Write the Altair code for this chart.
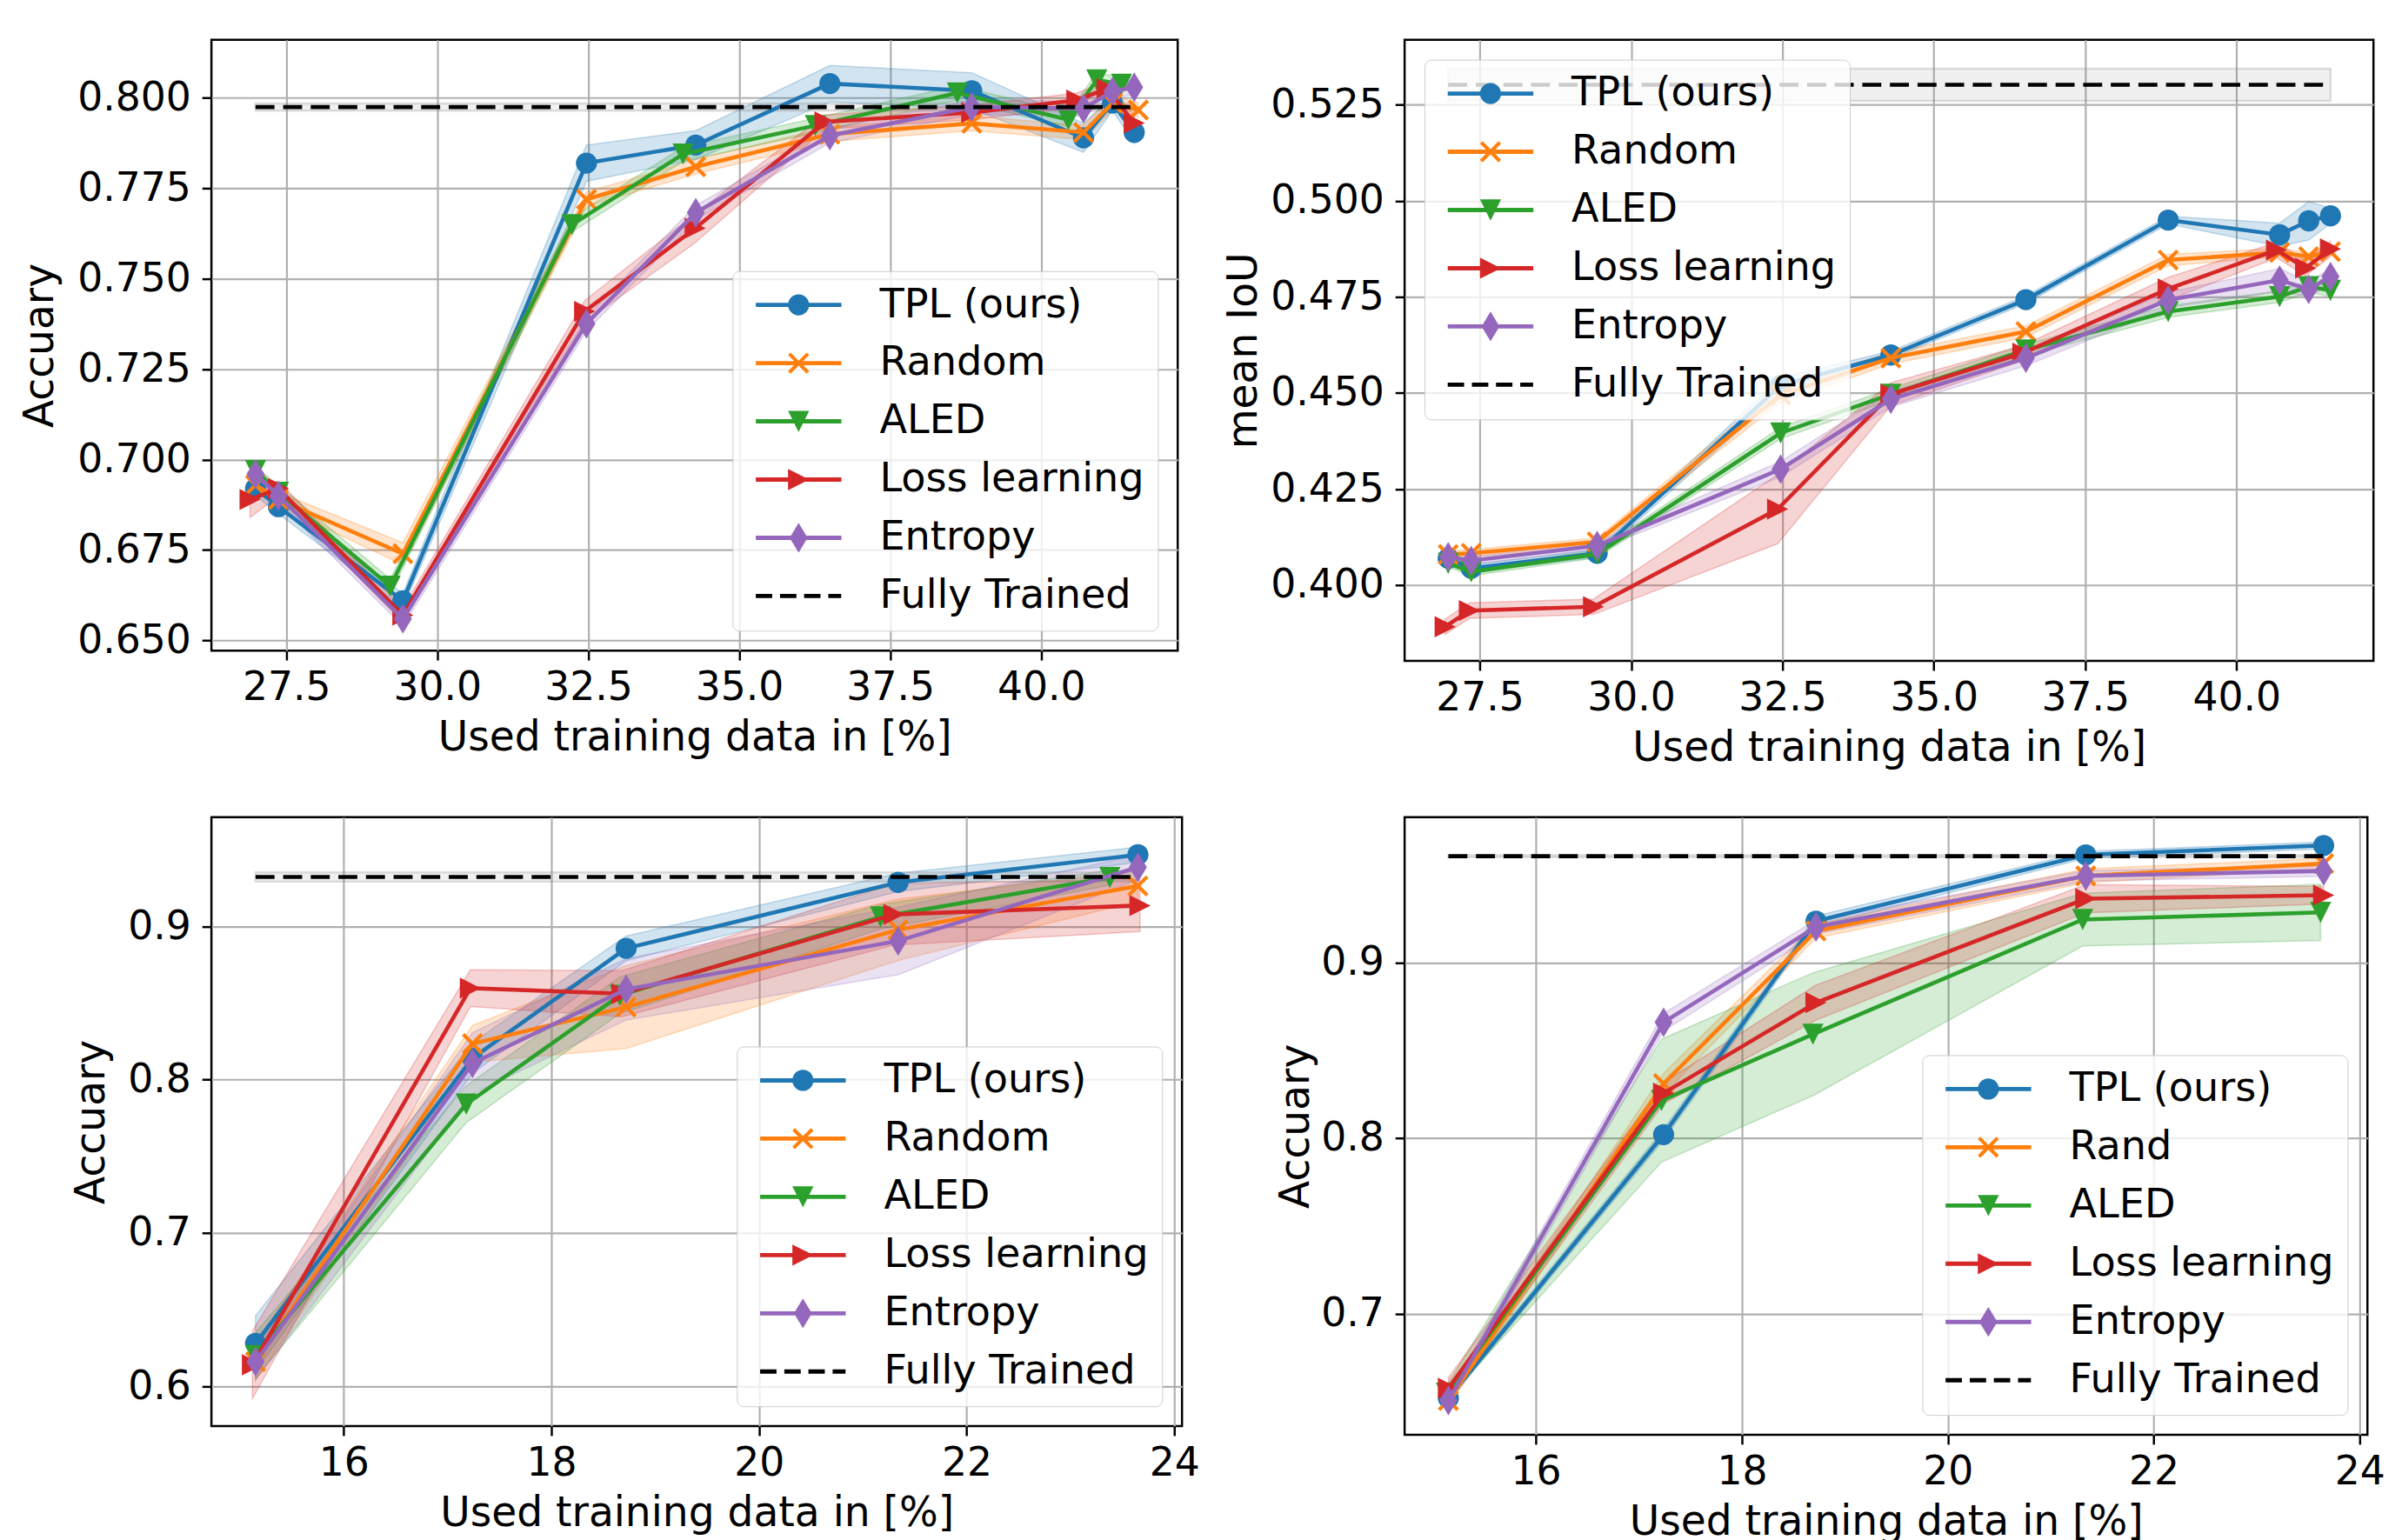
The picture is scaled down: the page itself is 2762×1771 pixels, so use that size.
import altair as alt
import pandas as pd

FONT = "DejaVu Sans"
NAMES = ["TPL (ours)", "Random", "ALED", "Loss learning", "Entropy", "Fully Trained"]
NAMES_P4 = ["TPL (ours)", "Rand", "ALED", "Loss learning", "Entropy", "Fully Trained"]
COLORS = ["#1f77b4", "#ff7f0e", "#2ca02c", "#d62728", "#9467bd", "#000000"]

# ---------------- Panel 1 (top-left) ----------------
P1_X = [26.99, 27.37, 29.43, 32.47, 34.28, 36.50, 38.85, 40.70, 41.18, 41.54]
P1_X_RANDOM = [26.99, 27.37, 29.43, 32.47, 34.28, 36.50, 38.85, 40.70, 41.18, 41.61]
P1_X_ALED = [26.99, 27.37, 29.22, 32.23, 34.07, 36.26, 38.61, 40.45, 40.92, 41.33]
P1_X_LOSS = [26.90, 27.37, 29.43, 32.44, 34.27, 36.42, 38.85, 40.59, 41.09, 41.54]
P1_TPL = [0.692, 0.687, 0.661, 0.782, 0.787, 0.804, 0.802, 0.789, 0.7986, 0.7905]
P1_TPL_STD = [0.002, 0.002, 0.002, 0.005, 0.004, 0.005, 0.005, 0.004, 0.002, 0.003]
P1_RANDOM = [0.693, 0.689, 0.674, 0.772, 0.781, 0.790, 0.793, 0.7905, 0.7986, 0.7967]
P1_RANDOM_STD = [0.002, 0.002, 0.003, 0.002, 0.002, 0.002, 0.002, 0.002, 0.002, 0.002]
P1_ALED = [0.697, 0.691, 0.665, 0.765, 0.7845, 0.7924, 0.8014, 0.794, 0.805, 0.8038]
P1_ALED_STD = [0.001, 0.002, 0.002, 0.002, 0.002, 0.002, 0.002, 0.002, 0.002, 0.002]
P1_LOSS = [0.689, 0.692, 0.657, 0.741, 0.764, 0.7934, 0.796, 0.7994, 0.8026, 0.7931]
P1_LOSS_STD = [0.005, 0.002, 0.002, 0.003, 0.004, 0.002, 0.002, 0.002, 0.002, 0.002]
P1_ENTROPY = [0.696, 0.690, 0.656, 0.7376, 0.7683, 0.7896, 0.7975, 0.7971, 0.8018, 0.803]
P1_ENTROPY_STD = [0.002, 0.002, 0.002, 0.002, 0.002, 0.002, 0.002, 0.002, 0.002, 0.002]
P1_FULL_X = [26.99, 41.54]
P1_FULL = 0.7975
P1_FULL_STD = 0.001

# ---------------- Panel 2 (top-right) ----------------
P2_X = [26.98, 27.36, 29.44, 32.47, 34.29, 36.52, 38.87, 40.71, 41.19, 41.55]
P2_X_LOSS = [26.93, 27.33, 29.38, 32.42, 34.29, 36.47, 38.87, 40.66, 41.14, 41.55]
P2_TPL = [0.4070, 0.4044, 0.4083, 0.4520, 0.4599, 0.4743, 0.4950, 0.4912, 0.4948, 0.4961]
P2_TPL_STD = [0.001, 0.001, 0.001, 0.002, 0.001, 0.001, 0.001, 0.003, 0.005, 0.002]
P2_RANDOM = [0.4080, 0.4083, 0.4113, 0.4495, 0.4591, 0.4660, 0.4846, 0.4866, 0.4855, 0.4868]
P2_RANDOM_STD = [0.001, 0.001, 0.001, 0.002, 0.0015, 0.0015, 0.0015, 0.001, 0.001, 0.001]
P2_ALED = [0.4057, 0.4035, 0.4081, 0.4396, 0.4497, 0.4612, 0.4712, 0.4751, 0.4777, 0.4767]
P2_ALED_STD = [0.001, 0.001, 0.001, 0.0015, 0.0015, 0.0015, 0.0015, 0.0015, 0.0015, 0.0015]
P2_LOSS = [0.3892, 0.3934, 0.3944, 0.4198, 0.4497, 0.4604, 0.4771, 0.4872, 0.4825, 0.4875]
P2_LOSS_STD = [0.002, 0.002, 0.002, 0.009, 0.003, 0.002, 0.003, 0.002, 0.002, 0.002]
P2_ENTROPY = [0.4074, 0.4064, 0.4103, 0.4302, 0.4484, 0.4591, 0.4742, 0.4794, 0.4770, 0.4803]
P2_ENTROPY_STD = [0.001, 0.001, 0.001, 0.002, 0.002, 0.002, 0.002, 0.003, 0.002, 0.002]
P2_FULL_X = [26.98, 41.55]
P2_FULL = 0.5302
P2_FULL_STD = 0.0042

# ---------------- Panel 3 (bottom-left) ----------------
P3_X = [15.15, 17.24, 18.72, 21.34, 23.65]
P3_X_ALED = [15.15, 17.18, 18.66, 21.17, 23.38]
P3_X_LOSS = [15.12, 17.22, 18.68, 21.30, 23.67]
P3_TPL = [0.628, 0.814, 0.8856, 0.9286, 0.9466]
P3_TPL_STD = [0.018, 0.010, 0.008, 0.006, 0.005]
P3_RANDOM = [0.616, 0.8234, 0.8473, 0.8977, 0.9263]
P3_RANDOM_STD = [0.012, 0.012, 0.027, 0.020, 0.010]
P3_ALED = [0.620, 0.784, 0.855, 0.9061, 0.9318]
P3_ALED_STD = [0.015, 0.012, 0.012, 0.008, 0.005]
P3_LOSS = [0.614, 0.8596, 0.856, 0.9077, 0.9135]
P3_LOSS_STD = [0.022, 0.012, 0.015, 0.020, 0.017]
P3_ENTROPY = [0.616, 0.8106, 0.8589, 0.8904, 0.9385]
P3_ENTROPY_STD = [0.012, 0.020, 0.020, 0.022, 0.008]
P3_FULL_X = [15.15, 23.65]
P3_FULL = 0.9321
P3_FULL_STD = 0.003

# ---------------- Panel 4 (bottom-right) ----------------
P4_X = [15.15, 17.24, 18.72, 21.34, 23.65]
P4_X_ALED = [15.13, 17.22, 18.69, 21.31, 23.62]
P4_TPL = [0.6519, 0.802, 0.9236, 0.9614, 0.9667]
P4_TPL_STD = [0.002, 0.003, 0.003, 0.002, 0.002]
P4_RAND = [0.6505, 0.831, 0.918, 0.9494, 0.9564]
P4_RAND_STD = [0.003, 0.006, 0.004, 0.004, 0.003]
P4_ALED = [0.6547, 0.8214, 0.8592, 0.9245, 0.9286]
P4_ALED_STD = [0.004, 0.035, 0.035, 0.015, 0.016]
P4_LOSS = [0.6575, 0.8256, 0.8772, 0.9364, 0.9384]
P4_LOSS_STD = [0.006, 0.006, 0.010, 0.008, 0.005]
P4_ENTROPY = [0.6505, 0.866, 0.9203, 0.9494, 0.9522]
P4_ENTROPY_STD = [0.003, 0.005, 0.004, 0.003, 0.003]
P4_FULL_X = [15.15, 23.65]
P4_FULL = 0.9606
P4_FULL_STD = 0.0006

# ---------------- marker shapes (unit = sqrt(size)/2) ----------------
def _shift(pts, dx):
    return [(x + dx, y) for x, y in pts]

def _poly(pts):
    return "M" + "L".join(f"{x:.3f},{y:.3f}" for x, y in pts) + "Z"

D = 0.24
X_PTS = [(-1 + D, -1), (0, -D), (1 - D, -1), (1, -1 + D), (D, 0), (1, 1 - D),
         (1 - D, 1), (0, D), (-1 + D, 1), (-1, 1 - D), (-D, 0), (-1, -1 + D)]
TRI_DOWN = [(0, 1), (-1, -1), (1, -1)]
TRI_RIGHT = [(1, 0), (-1, 1), (-1, -1)]
THIN_DIAMOND = [(0, -1.41), (0.85, 0), (0, 1.41), (-0.85, 0)]

def _circle(cx):
    return f"M{cx-1},0A1,1,0,1,1,{cx+1},0A1,1,0,1,1,{cx-1},0Z"

MARKERS = [_circle(0), _poly(X_PTS), _poly(TRI_DOWN), _poly(TRI_RIGHT), _poly(THIN_DIAMOND)]

LW = 0.2
LX1, LX2 = -1.0, 7.1
LINE = _poly([(LX1, -LW), (LX2, -LW), (LX2, LW), (LX1, LW)])
MC = 3.05
LEGEND_PATHS = [
    LINE + _circle(MC),
    LINE + _poly(_shift(X_PTS, MC)),
    LINE + _poly(_shift(TRI_DOWN, MC)),
    LINE + _poly(_shift(TRI_RIGHT, MC)),
    LINE + _poly(_shift(THIN_DIAMOND, MC)),
    "".join(_poly([(a, -LW), (b, -LW), (b, LW), (a, LW)])
            for a, b in [(-1.0, 0.55), (1.29, 2.84), (3.57, 5.12), (5.86, 7.08)]),
]

MARKER_SIZE = 600


def panel(series, full_x, full_v, full_s, xdom, ydom, xticks, yticks, xfmt, yfmt,
          ytitle, names, orient, width, height, ytitle_pad):
    xs = alt.Scale(domain=xdom, nice=False, zero=False)
    ys = alt.Scale(domain=ydom, nice=False, zero=False)
    xax = alt.Axis(values=xticks, format=xfmt, title="Used training data in [%]",
                   labelPadding=10, titlePadding=11)
    yax = alt.Axis(values=yticks, format=yfmt, title=ytitle,
                   labelPadding=13, titlePadding=ytitle_pad)
    X = alt.X("x:Q", scale=xs, axis=xax)
    Y = alt.Y("y:Q", scale=ys, axis=yax)
    YLO = alt.Y("lo:Q", scale=ys, axis=yax)

    layers = []
    frames = []
    for (xv, yv, sv), c in zip(series, COLORS):
        df = pd.DataFrame({"x": xv, "y": yv})
        df["lo"] = [a - b for a, b in zip(yv, sv)]
        df["hi"] = [a + b for a, b in zip(yv, sv)]
        frames.append(df)
        layers.append(alt.Chart(df).mark_area(fill=c, stroke=c, fillOpacity=0.2,
                                              strokeOpacity=0.25, strokeWidth=1.5)
                      .encode(x=X, y=YLO, y2="hi:Q"))
    fdf = pd.DataFrame({"x": full_x, "y": [full_v, full_v],
                        "lo": [full_v - full_s] * 2, "hi": [full_v + full_s] * 2})
    layers.append(alt.Chart(fdf).mark_area(fill="#808080", stroke="#808080", fillOpacity=0.12,
                                           strokeOpacity=0.25, strokeWidth=2.5)
                  .encode(x=X, y=YLO, y2="hi:Q"))
    for df, c, m in zip(frames, COLORS, MARKERS):
        layers.append(alt.Chart(df).mark_line(color=c, strokeWidth=4.6).encode(x=X, y=Y))
        layers.append(alt.Chart(df).mark_point(filled=True, fill=c, shape=m, size=MARKER_SIZE,
                                               opacity=1, strokeWidth=0).encode(x=X, y=Y))
    layers.append(alt.Chart(fdf).mark_line(color="black", strokeWidth=4.6, strokeDash=[22, 10])
                  .encode(x=X, y=Y))

    leg = alt.Legend(title=None, orient=orient, offset=23, padding=16, rowPadding=20.5,
                     labelFontSize=46.5, labelFont=FONT, labelColor="black", labelOffset=108,
                     labelLimit=0, symbolSize=MARKER_SIZE, symbolStrokeWidth=0,
                     symbolOpacity=1, fillColor="rgba(255,255,255,0.8)",
                     strokeColor="#cccccc", cornerRadius=8)
    ddf = pd.DataFrame({"x": [full_x[0]], "y": [full_v], "series": [names[0]]})
    layers.append(alt.Chart(ddf).transform_filter("false")
                  .mark_point(filled=True, opacity=1, size=MARKER_SIZE)
                  .encode(x=X, y=Y,
                          color=alt.Color("series:N", scale=alt.Scale(domain=names, range=COLORS),
                                          legend=leg),
                          shape=alt.Shape("series:N",
                                          scale=alt.Scale(domain=names, range=LEGEND_PATHS),
                                          legend=leg)))
    return alt.layer(*layers).properties(width=width, height=height)


X1_TICKS = [27.5, 30.0, 32.5, 35.0, 37.5, 40.0]
X3_TICKS = [16, 18, 20, 22, 24]

p1 = panel([(P1_X, P1_TPL, P1_TPL_STD), (P1_X_RANDOM, P1_RANDOM, P1_RANDOM_STD),
            (P1_X_ALED, P1_ALED, P1_ALED_STD), (P1_X_LOSS, P1_LOSS, P1_LOSS_STD),
            (P1_X, P1_ENTROPY, P1_ENTROPY_STD)],
           P1_FULL_X, P1_FULL, P1_FULL_STD, [26.26, 42.26], [0.6472, 0.8161],
           X1_TICKS, [0.650, 0.675, 0.700, 0.725, 0.750, 0.775, 0.800], ".1f", ".3f",
           "Accuary", NAMES, "bottom-right", 1120, 708, 18)

p2 = panel([(P2_X, P2_TPL, P2_TPL_STD), (P2_X, P2_RANDOM, P2_RANDOM_STD),
            (P2_X, P2_ALED, P2_ALED_STD), (P2_X_LOSS, P2_LOSS, P2_LOSS_STD),
            (P2_X, P2_ENTROPY, P2_ENTROPY_STD)],
           P2_FULL_X, P2_FULL, P2_FULL_STD, [26.26, 42.26], [0.3803, 0.5419],
           X1_TICKS, [0.400, 0.425, 0.450, 0.475, 0.500, 0.525], ".1f", ".3f",
           "mean IoU", NAMES, "top-left", 1123, 720, 6)

p3 = panel([(P3_X, P3_TPL, P3_TPL_STD), (P3_X, P3_RANDOM, P3_RANDOM_STD),
            (P3_X_ALED, P3_ALED, P3_ALED_STD), (P3_X_LOSS, P3_LOSS, P3_LOSS_STD),
            (P3_X, P3_ENTROPY, P3_ENTROPY_STD)],
           P3_FULL_X, P3_FULL, P3_FULL_STD, [14.725, 24.075], [0.574, 0.9712],
           X3_TICKS, [0.6, 0.7, 0.8, 0.9], "d", ".1f",
           "Accuary", NAMES, "bottom-right", 1125, 706, 17)

p4 = panel([(P4_X, P4_TPL, P4_TPL_STD), (P4_X, P4_RAND, P4_RAND_STD),
            (P4_X_ALED, P4_ALED, P4_ALED_STD), (P4_X, P4_LOSS, P4_LOSS_STD),
            (P4_X, P4_ENTROPY, P4_ENTROPY_STD)],
           P4_FULL_X, P4_FULL, P4_FULL_STD, [14.725, 24.075], [0.631, 0.9829],
           X3_TICKS, [0.7, 0.8, 0.9], "d", ".1f",
           "Accuary", NAMES_P4, "bottom-right", 1116, 716, 4)

RES = dict(color="independent", shape="independent")
chart = (alt.concat(p1, p2, p3, p4, columns=2, spacing={"row": 181, "column": 258},
                    bounds="flush")
         .resolve_scale(**RES).resolve_legend(**RES)
         .properties(padding={"left": 14, "top": 29, "right": 10, "bottom": 0},
                     background="white")
         .configure_view(stroke="black", strokeWidth=2.5)
         .configure_axis(labelFont=FONT, titleFont=FONT, labelFontSize=46, titleFontSize=47.5,
                         titleFontWeight="normal", labelColor="black", titleColor="black",
                         tickColor="black", tickSize=11, tickWidth=2.5, grid=True,
                         gridColor="#b0b0b0", gridWidth=2.2, gridOpacity=1, domain=False,
                         labelFlush=False, labelOverlap=False))

chart.save("out.html", embed_options={"renderer": "svg", "actions": False})
